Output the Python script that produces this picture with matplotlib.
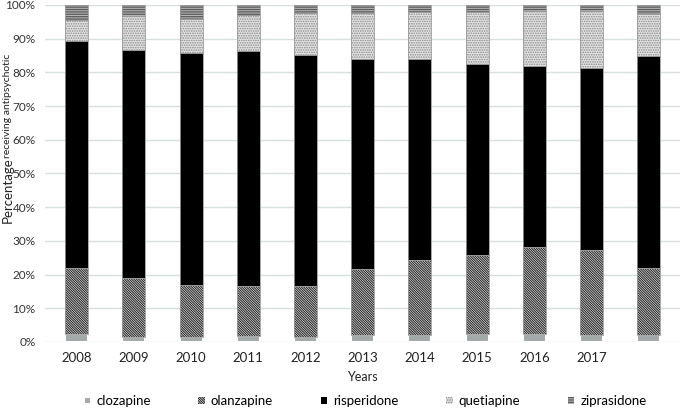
import matplotlib
matplotlib.use("Agg")
import matplotlib.pyplot as plt
import numpy as np

plt.rcParams['font.family'] = ['Lato', 'DejaVu Sans']
plt.rcParams['hatch.linewidth'] = 0.8

# Data (percent of patients)
years = ['2008', '2009', '2010', '2011', '2012', '2013', '2014', '2015', '2016', '2017', '']
clozapine = [2.3, 1.5, 1.5, 1.7, 1.5, 2.0, 2.0, 2.4, 2.5, 2.2, 2.0]
olanzapine = [19.6, 17.4, 15.4, 15.0, 15.0, 19.5, 22.2, 23.3, 25.7, 25.0, 19.8]
risperidone = [67.4, 67.8, 68.8, 69.5, 68.5, 62.5, 59.8, 56.8, 53.7, 54.2, 62.9]
quetiapine = [6.2, 10.0, 10.1, 10.8, 12.5, 13.5, 13.8, 15.3, 16.3, 16.8, 12.5]
ziprasidone = [4.5, 3.3, 4.2, 3.0, 2.5, 2.5, 2.2, 2.2, 1.8, 1.8, 2.8]

labels = ['clozapine', 'olanzapine', 'risperidone', 'quetiapine', 'ziprasidone']
series = [clozapine, olanzapine, risperidone, quetiapine, ziprasidone]
fills = ['#a3a8a8', 'white', 'black', '#e4e4e4', '#5c5c5c']
hatches = [None, '\\' * 14, None, '.' * 7, '-' * 7]
hatch_cols = [None, '#2a2a2a', None, '#8a8a8a', '#b4b4b4']

fig = plt.figure(figsize=(6.85, 4.11), dpi=100)
ax = fig.add_axes([0.066, 0.168, 0.927, 0.82])

x = np.arange(len(years))
bottom = np.zeros(len(years))
width = 0.4
for i, (lab, vals) in enumerate(zip(labels, series)):
    vals = np.array(vals)
    if lab == 'clozapine':
        ax.bar(x, vals, width, bottom=bottom, color=fills[i], edgecolor='white',
               linewidth=1.5, label=lab, zorder=2)
    else:
        ax.bar(x, vals, width, bottom=bottom, color=fills[i],
               edgecolor=hatch_cols[i] if hatches[i] else '#666666',
               hatch=hatches[i], linewidth=0, label=lab, zorder=2)
        # thin gray outline
        ax.bar(x, vals, width, bottom=bottom, fill=False, edgecolor='#9a9a9a',
               linewidth=0.6, zorder=3)
    bottom += vals

ax.set_ylim(0, 100)
ax.set_xlim(-0.55, len(years) - 0.45)
ax.set_yticks(np.arange(0, 101, 10))
ax.set_yticklabels([f'{v}%' for v in range(0, 101, 10)], fontsize=8.5, color='#333333')
ax.set_xticks(x)
ax.set_xticklabels(years, fontsize=9.5, color='#222222')
ax.tick_params(length=0, pad=7)
ax.grid(axis='y', color='#d8dfe0', linewidth=1, zorder=0)
for s in ax.spines.values():
    s.set_visible(False)

ax.set_xlabel('Years', fontsize=9, color='#222222', labelpad=5)

# y label: two sizes as in the reference
fig.text(0.003, 1 - 223 / 411, 'Percentage', rotation=90, fontsize=9.5,
         color='#222222', ha='left', va='bottom')
fig.text(0.004, 1 - 158 / 411, 'receiving antipsychotic', rotation=90, fontsize=7.5,
         color='#222222', ha='left', va='bottom')

ax.legend(loc='center', bbox_to_anchor=(0.504, -0.176), ncol=5, frameon=False,
          fontsize=9.5, handlelength=0.5, handleheight=0.5, columnspacing=3.6,
          handletextpad=0.45, borderaxespad=0)

fig.savefig('out.png', dpi=100)
